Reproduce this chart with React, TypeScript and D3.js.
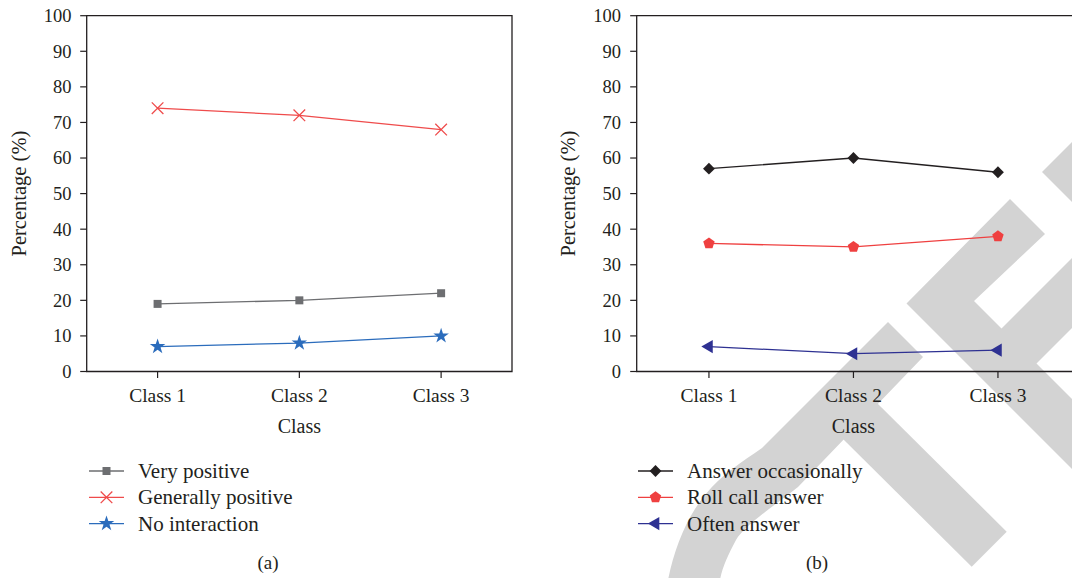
import React from "react";
import * as d3 from "d3";

const categories = ["Class 1", "Class 2", "Class 3"];
const yTicks = [0, 10, 20, 30, 40, 50, 60, 70, 80, 90, 100];

const veryPositive = [19, 20, 22];
const generallyPositive = [74, 72, 68];
const noInteraction = [7, 8, 10];

const answerOccasionally = [57, 60, 56];
const rollCallAnswer = [36, 35, 38];
const oftenAnswer = [7, 5, 6];

const TEXT = "#231f20";
const FONT = "'Liberation Serif', 'Times New Roman', serif";

type Marker = "square" | "x" | "star" | "diamond" | "pentagon" | "triLeft";

interface Series {
  name: string;
  values: number[];
  color: string;
  marker: Marker;
}

const seriesA: Series[] = [
  { name: "Very positive", values: veryPositive, color: "#6d6e71", marker: "square" },
  { name: "Generally positive", values: generallyPositive, color: "#ef4b4b", marker: "x" },
  { name: "No interaction", values: noInteraction, color: "#2b6cbc", marker: "star" },
];
const seriesB: Series[] = [
  { name: "Answer occasionally", values: answerOccasionally, color: "#231f20", marker: "diamond" },
  { name: "Roll call answer", values: rollCallAnswer, color: "#ef4040", marker: "pentagon" },
  { name: "Often answer", values: oftenAnswer, color: "#2e3192", marker: "triLeft" },
];

function pentagonPath(r: number) {
  const pts = d3.range(5).map((i) => {
    const a = -Math.PI / 2 + (i * 2 * Math.PI) / 5;
    return [r * Math.cos(a), r * Math.sin(a)];
  });
  return "M" + pts.map((p) => p.join(",")).join("L") + "Z";
}

function MarkerShape({ type, color, x, y }: { type: Marker; color: string; x: number; y: number }) {
  const t = `translate(${x},${y})`;
  if (type === "square") {
    return <path transform={t} d={d3.symbol(d3.symbolSquare, 64)()!} fill={color} />;
  }
  if (type === "x") {
    const sym = (d3 as any).symbolTimes || (d3 as any).symbolX;
    return <path transform={t} d={d3.symbol(sym, 90)()!} fill="none" stroke={color} strokeWidth={1.3} />;
  }
  if (type === "star") {
    return <path transform={t} d={d3.symbol(d3.symbolStar, 75)()!} fill={color} />;
  }
  if (type === "diamond") {
    return <path transform={`${t} rotate(45)`} d={d3.symbol(d3.symbolSquare, 70)()!} fill={color} />;
  }
  if (type === "pentagon") {
    return <path transform={t} d={pentagonPath(6)} fill={color} />;
  }
  return <path transform={`${t} rotate(-90)`} d={d3.symbol(d3.symbolTriangle, 75)()!} fill={color} />;
}

interface PanelProps {
  series: Series[];
  x0: number;
  x1: number;
  frameRight: number;
  yLabelX: number;
  tickLabelRight: number;
  legendX: number;
  caption: string;
  captionX: number;
}

const Y_TOP = 15.7;
const Y_BOTTOM = 371.5;

function Panel(p: PanelProps) {
  const x = d3.scalePoint<string>().domain(categories).range([p.x0, p.x1]).padding(0.5);
  const y = d3.scaleLinear().domain([0, 100]).range([Y_BOTTOM, Y_TOP]);
  const line = d3
    .line<number>()
    .x((_, i) => x(categories[i])!)
    .y((d) => y(d));
  const legendRows = [471, 497.3, 523.6];
  const axisColor = "#231f20";
  return (
    <g>
      <path
        d={`M${p.x0},${Y_BOTTOM}V${Y_TOP}H${p.frameRight}V${Y_BOTTOM}Z`}
        fill="none"
        stroke={axisColor}
        strokeWidth={1.3}
      />
      {yTicks.map((t) => (
        <g key={t}>
          <line x1={p.x0 - 6.5} x2={p.x0} y1={y(t)} y2={y(t)} stroke={axisColor} strokeWidth={1.2} />
          <text
            x={p.tickLabelRight}
            y={y(t)}
            dy="0.35em"
            textAnchor="end"
            fontSize={18.5}
            fontFamily={FONT}
            fill={TEXT}
          >
            {t}
          </text>
        </g>
      ))}
      {categories.map((c) => (
        <g key={c}>
          <line x1={x(c)} x2={x(c)} y1={Y_BOTTOM} y2={Y_BOTTOM + 6.5} stroke={axisColor} strokeWidth={1.2} />
          <text x={x(c)} y={402} textAnchor="middle" fontSize={19.5} fontFamily={FONT} fill={TEXT}>
            {c}
          </text>
        </g>
      ))}
      <text
        x={(p.x0 + p.x1) / 2}
        y={433}
        textAnchor="middle"
        fontSize={20}
        fontFamily={FONT}
        fill={TEXT}
      >
        Class
      </text>
      <text
        transform={`translate(${p.yLabelX},${(Y_TOP + Y_BOTTOM) / 2}) rotate(-90)`}
        textAnchor="middle"
        fontSize={20.5}
        fontFamily={FONT}
        fill={TEXT}
      >
        Percentage (%)
      </text>
      {p.series.map((s) => (
        <g key={s.name}>
          <path d={line(s.values)!} fill="none" stroke={s.color} strokeWidth={1.3} />
          {s.values.map((v, i) => (
            <MarkerShape key={i} type={s.marker} color={s.color} x={x(categories[i])!} y={y(v)} />
          ))}
        </g>
      ))}
      {p.series.map((s, i) => (
        <g key={"lg" + s.name}>
          <line
            x1={p.legendX}
            x2={p.legendX + 35}
            y1={legendRows[i]}
            y2={legendRows[i]}
            stroke={s.color}
            strokeWidth={1.3}
          />
          <MarkerShape type={s.marker} color={s.color} x={p.legendX + 17.5} y={legendRows[i]} />
          <text
            x={p.legendX + 49}
            y={legendRows[i]}
            dy="0.33em"
            fontSize={21}
            fontFamily={FONT}
            fill={TEXT}
          >
            {s.name}
          </text>
        </g>
      ))}
      <text x={p.captionX} y={563} dy="0.33em" textAnchor="middle" fontSize={19} fontFamily={FONT} fill={TEXT}>
        {p.caption}
      </text>
    </g>
  );
}

function Watermark() {
  const fill = "#d3d3d3";
  return (
    <g fill={fill}>
      <path d="M888,322 L923,357 L798,487 C775,505 745,525 736,540 C728,555 722,568 720,580 L668,580 C674,550 686,518 705,495 C722,474 742,462 762,448 Z" />
      <path d="M842,438 L877,403 L1006.7,531.7 L971.7,566.7 Z" />
      <path d="M906.5,303.5 L1010,199 L1045,234 L974,301 L1001.5,328.5 L1072,258 L1072,328 L1036.5,363.5 L1072,399 L1072,469 Z" />
      <path d="M1042,172 L1072,142 L1072,202 Z" />
    </g>
  );
}

export default function App() {
  return (
    <svg
      width={1072}
      height={578}
      style={{ position: "absolute", left: 0, top: 0, background: "#fff" }}
    >
      <rect width={1072} height={578} fill="#fff" />
      <Watermark />
      <Panel
        series={seriesA}
        x0={86.7}
        x1={512}
        frameRight={512}
        yLabelX={26}
        tickLabelRight={71.5}
        legendX={89}
        caption="(a)"
        captionX={268}
      />
      <Panel
        series={seriesB}
        x0={636.7}
        x1={1070.2}
        frameRight={1078}
        yLabelX={575}
        tickLabelRight={621}
        legendX={638}
        caption="(b)"
        captionX={817}
      />
    </svg>
  );
}
